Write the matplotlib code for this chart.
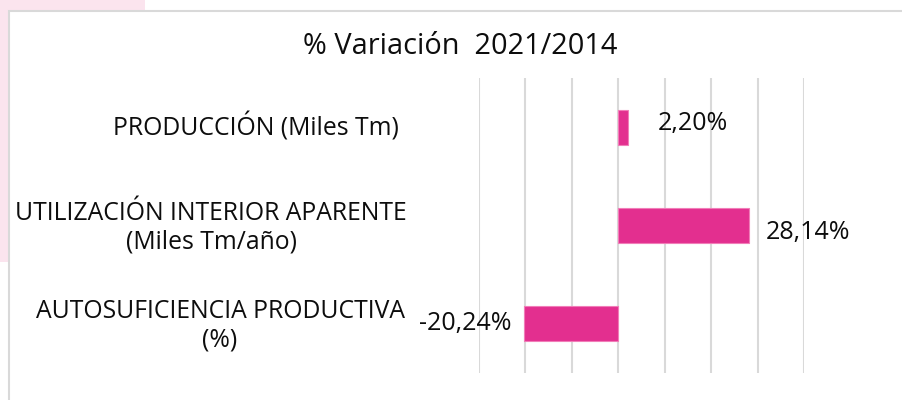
import matplotlib
matplotlib.use("Agg")
import matplotlib.pyplot as plt
from matplotlib.patches import Rectangle

categories = ["PRODUCCIÓN (Miles Tm)",
              "UTILIZACIÓN INTERIOR APARENTE\n(Miles Tm/año)",
              "AUTOSUFICIENCIA PRODUCTIVA\n(%)"]
values = [2.20, 28.14, -20.24]
value_labels = ["2,20%", "28,14%", "-20,24%"]
title = "% Variación  2021/2014"

plt.rcParams['font.family'] = ['Open Sans', 'DejaVu Sans']

W, H = 902, 400
fig = plt.figure(figsize=(W/100, H/100), dpi=100)
fig.patch.set_facecolor("white")

# background decorations
pink = "#FBE4EE"
fig.patches.append(Rectangle((0, 1 - 11/H), 145/W, 11/H, transform=fig.transFigure,
                             facecolor=pink, edgecolor="none", zorder=0))
fig.patches.append(Rectangle((0, 1 - 262/H), 8/W, 262/H, transform=fig.transFigure,
                             facecolor=pink, edgecolor="none", zorder=0))
fig.patches.append(Rectangle((8.5/W, -0.1), 1.2, (H - 10.5)/H + 0.1, transform=fig.transFigure,
                             facecolor="white", edgecolor="#D9D9D9", linewidth=1.5, zorder=1))

ax = fig.add_axes([479/W, (H - 373)/H, (804 - 479)/W, (373 - 78)/H])
ax.set_zorder(2)
ax.patch.set_alpha(0)

y = list(range(len(categories)))
ax.barh(y, values, height=0.355, color="#E32F8F", edgecolor="#F17DB8", linewidth=0.8, zorder=3)
ax.set_xlim(-30, 40)
ax.set_ylim(2.5, -0.5)
ax.set_xticks([-30, -20, -10, 0, 10, 20, 30, 40])
ax.xaxis.grid(True, color="#D9D9D9", linewidth=1.5)
ax.set_axisbelow(True)
ax.tick_params(axis='x', length=0, labelbottom=False)
ax.tick_params(axis='y', length=0, labelleft=False)
ax.set_yticks(y)
for s in ax.spines.values():
    s.set_visible(False)

fig.canvas.draw()
centers_x = [256, 211, 220]
for yi, lab, cx in zip(y, categories, centers_x):
    yd = ax.transData.transform((0, yi))[1]
    ax.text(cx / W, yd / H - (0.005 if "\n" in lab else 0), lab, transform=fig.transFigure,
            ha="center", va="center", multialignment="center",
            fontsize=17.8, color="#0d0d0d", linespacing=1.2)

label_x = [8.4, 31.7, -23.0]
label_dy = [-0.04, 0.07, 0.0]
for yi, v, lab, lx, dy in zip(y, values, value_labels, label_x, label_dy):
    ax.text(lx, yi + dy, lab, ha="left" if v > 0 else "right", va="center",
            fontsize=18, color="#0d0d0d")

fig.text(460/W, 1 - 47/H, title, ha="center", va="center", fontsize=20.8, color="#0d0d0d")

fig.savefig("out.png", dpi=100)
